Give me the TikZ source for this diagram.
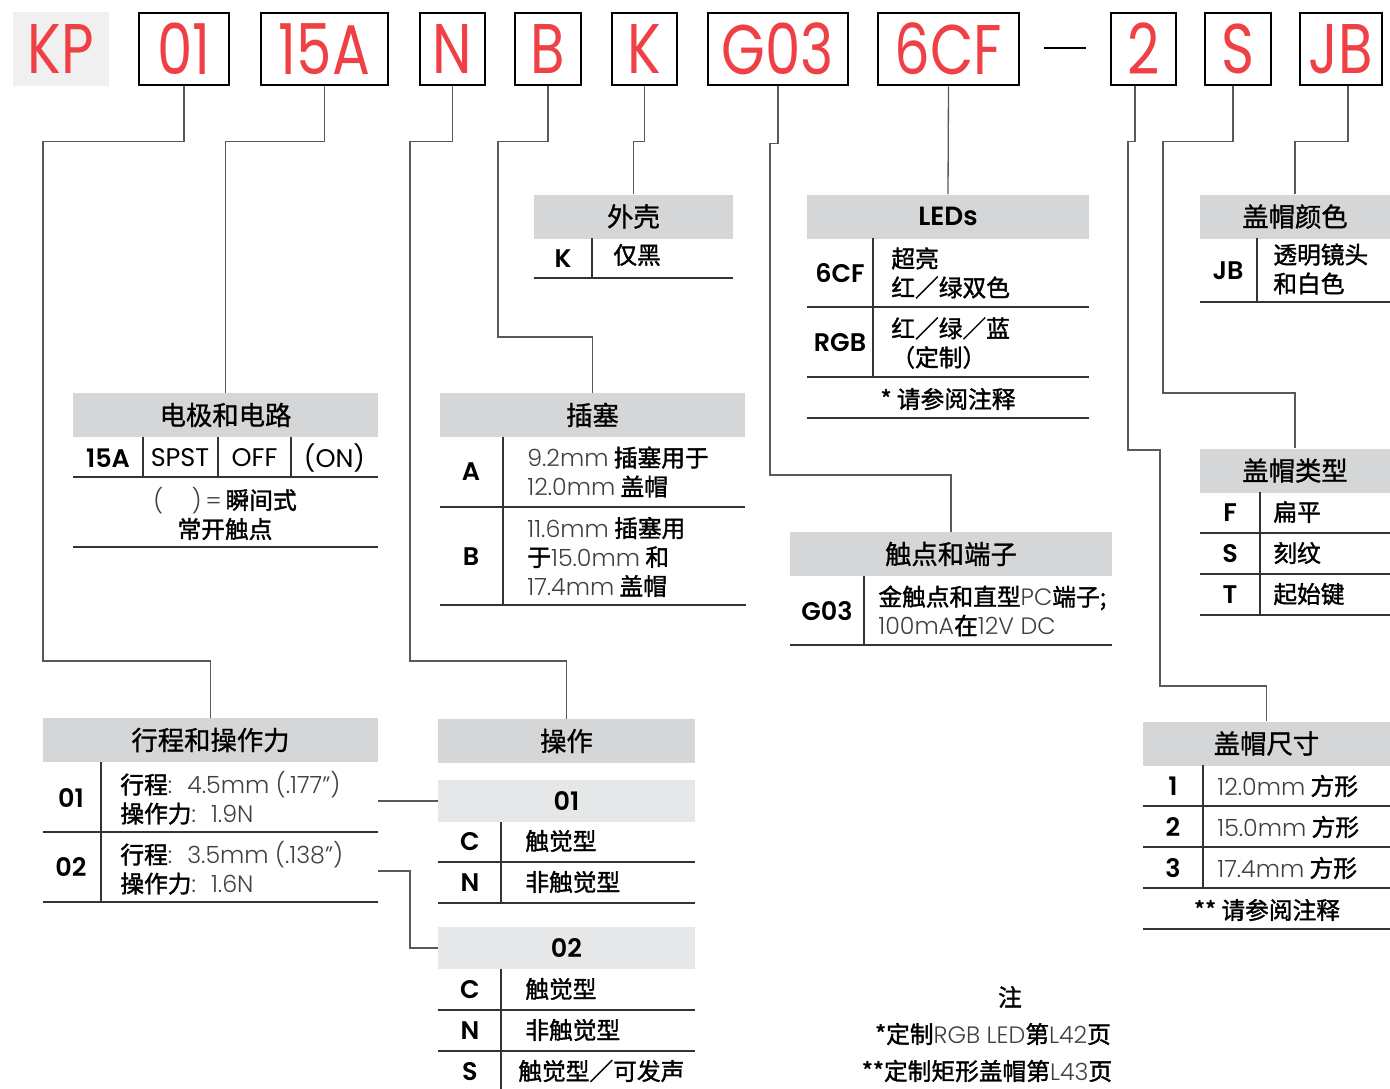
\documentclass[tikz,border=0pt]{standalone}
\usepackage{fontspec}
\setmainfont{Noto Sans CJK SC}
\newfontfamily\zhb{Noto Sans CJK SC}[FakeBold=1.5]
\newfontfamily\zhh{Noto Sans CJK SC}[FakeBold=1]
\newfontfamily\lt{Poppins}[UprightFont={* Light}]
\newfontfamily\rg{Poppins}
\newfontfamily\topf{Poppins}[FakeStretch=0.8]
\newfontfamily\bd{Poppins}[UprightFont={* SemiBold}]
\definecolor{kpred}{HTML}{EE4045}
\definecolor{hdrgray}{HTML}{D5D6D8}
\definecolor{subgray}{HTML}{E6E7E8}
\definecolor{kpbg}{HTML}{F0F0F0}
\definecolor{txtgray}{HTML}{404042}
\newcommand\zb[1]{{\zhb #1}}
\newcommand\nm[1]{{\lt\color{txtgray}#1}}
\begin{document}
\begin{tikzpicture}[x=0.02cm, y=-0.02cm,
    codebox/.style={draw, line width=1.5pt, minimum height=1.44cm, inner sep=0pt, text=kpred, font=\topf\fontsize{40}{40}\selectfont},
    hdr/.style={fill=hdrgray, minimum height=0.88cm, inner sep=0pt, font=\zhh\fontsize{15}{16}\selectfont},
    subhdr/.style={fill=subgray, minimum height=0.84cm, minimum width=5.14cm, inner sep=0pt, font=\bd\fontsize{14.5}{16}\selectfont},
    code/.style={inner sep=0pt, font=\bd\fontsize{14.5}{16}\selectfont},
    light/.style={inner sep=0pt, font=\rg\fontsize{14.5}{16}\selectfont},
    desc/.style={anchor=west, inner sep=0pt, align=left, font=\fontsize{13.5}{16.5}\selectfont},
    note/.style={inner sep=0pt, align=center, font=\fontsize{13.5}{16.5}\selectfont},
    rule/.style={line width=0.9pt, draw=black!80},
    conn/.style={line width=0.75pt, draw=black!65}]
\useasboundingbox (0,0) rectangle (1390,1089);
% part number
\node[fill=kpbg, minimum width=1.92cm, minimum height=1.48cm, inner sep=0pt, text=kpred, font=\topf\fontsize{40}{40}\selectfont] (kp) at (61,49) {KP};
\node[codebox, minimum width=1.8cm] (b01) at (184,49) {01};
\node[codebox, minimum width=2.54cm] (b15A) at (324.5,49) {15A};
\node[codebox, minimum width=1.3cm] (bN) at (452.5,49) {N};
\node[codebox, minimum width=1.32cm] (bB) at (548,49) {B};
\node[codebox, minimum width=1.3cm] (bK) at (644.5,49) {K};
\node[codebox, minimum width=2.8cm] (bG) at (778,49) {G03};
\node[codebox, minimum width=2.82cm] (b6) at (948.5,49) {6CF};
\draw[line width=1.3pt] (1044,48) -- (1086,48);
\node[codebox, minimum width=1.3cm] (b2) at (1143.5,49) {2};
\node[codebox, minimum width=1.32cm] (bS) at (1238,49) {S};
\node[codebox, minimum width=1.64cm] (bJB) at (1341,49) {JB};

% shell
\node[hdr, minimum width=3.98cm] (shell) at (633.5,216.5) {外壳};
\node[code] (sK) at (563,259) {K};
\node[desc] (sKd) at (613,255) {\zb{仅黑}};
\draw[rule] (592,238) -- (592,278);
\draw[rule] (534,278) -- (733,278);

% LEDs
\node[hdr, minimum width=5.64cm, font=\bd\fontsize{15}{16}\selectfont] (leds) at (948,216.5) {LEDs};
\draw[rule] (873,238) -- (873,377);
\node[code] (l6) at (840,273) {6CF};
\node[desc] (l6d) at (891,273) {\zb{超亮}\\\zb{红／绿双色}};
\draw[rule] (807,307) -- (1089,307);
\node[code] (lR) at (840,343) {RGB};
\node[desc] (lRd) at (891,343) {\zb{红／绿／蓝}\\\zb{（定制）}};
\draw[rule] (807,377) -- (1089,377);
\node[note] (lnote) at (948,399) {\zb{* 请参阅注释}};
\draw[rule] (807,418) -- (1089,418);

% cap colour
\node[hdr, minimum width=3.8cm] (capcol) at (1295,216.5) {盖帽颜色};
\node[code] (cJB) at (1228,271) {JB};
\node[desc] (cJBd) at (1273,269) {\zb{透明镜头}\\\zb{和白色}};
\draw[rule] (1257,238) -- (1257,302);
\draw[rule] (1200,302) -- (1390,302);

% electrode and circuit
\node[hdr, minimum width=6.1cm] (elec) at (225.5,415) {电极和电路};
\node[code] (e15A) at (108,458) {15A};
\node[light] (eSPST) at (180,458) {SPST};
\node[light] (eOFF) at (254.5,458) {OFF};
\node[light] (eON) at (334.5,458) {(ON)};
\draw[rule] (143,437) -- (143,477) (218,437) -- (218,477) (291,437) -- (291,477);
\draw[rule] (73,477) -- (378,477);
\node[note] (emom) at (225,513.5) {\nm{(\hspace{1.2em})\,=}\,\zb{瞬间式}\\\zb{常开触点}};
\draw[rule] (73,547) -- (378,547);

% plunger
\node[hdr, minimum width=6.1cm] (plug) at (592.5,415) {插塞};
\draw[rule] (503,437) -- (503,605);
\node[code] (pA) at (471,472) {A};
\node[desc] (pAd) at (527,472) {\nm{9.2mm} \zb{插塞用于}\\\nm{12.0mm} \zb{盖帽}};
\draw[rule] (440,507) -- (745,507);
\node[code] (pB) at (471,557) {B};
\node[desc] (pBd) at (527,557) {\nm{11.6mm} \zb{插塞用}\\\zb{于}\nm{15.0mm} \zb{和}\\\nm{17.4mm} \zb{盖帽}};
\draw[rule] (440,605) -- (746,605);

% cap type
\node[hdr, minimum width=3.8cm] (captype) at (1295,470.5) {盖帽类型};
\draw[rule] (1260,492) -- (1260,615);
\node[code] (tF) at (1230,513) {F};
\node[desc] (tFd) at (1273,512) {\zb{扁平}};
\draw[rule] (1200,533) -- (1390,533);
\node[code] (tS) at (1230,554) {S};
\node[desc] (tSd) at (1273,553) {\zb{刻纹}};
\draw[rule] (1200,574) -- (1390,574);
\node[code] (tT) at (1230,595) {T};
\node[desc] (tTd) at (1273,594) {\zb{起始键}};
\draw[rule] (1200,615) -- (1390,615);

% contacts and terminals
\node[hdr, minimum width=6.44cm] (term) at (951,554) {触点和端子};
\draw[rule] (864,576) -- (864,645);
\node[code] (gG) at (827,611) {G03};
\node[desc] (gGd) at (878,611) {\zb{金触点和直型}\nm{PC}\zb{端子;}\\\nm{100mA}\zb{在}\nm{12V DC}};
\draw[rule] (790,645) -- (1112,645);

% travel and force
\node[hdr, minimum width=6.7cm] (trav) at (210.5,740) {行程和操作力};
\draw[rule] (101,762) -- (101,902);
\node[code] (r01) at (71,798) {01};
\node[desc] (r01d) at (120,798) {\zb{行程}\nm{:~ 4.5mm (.177”)}\\\zb{操作力}\nm{:~ 1.9N}};
\draw[rule] (43,832) -- (378,832);
\node[code] (r02) at (71,867) {02};
\node[desc] (r02d) at (120,868) {\zb{行程}\nm{:~ 3.5mm (.138”)}\\\zb{操作力}\nm{:~ 1.6N}};
\draw[rule] (43,902) -- (378,902);
\coordinate (t01) at (378,801);
\coordinate (t02) at (378,871);

% operation
\node[hdr, minimum width=5.14cm] (oper) at (566.5,741) {操作};
\node[subhdr] (op01) at (566.5,801) {01};
\draw[rule] (501,822) -- (501,903);
\node[code] (o1C) at (470,842) {C};
\node[desc] (o1Cd) at (525,841) {\zb{触觉型}};
\draw[rule] (438,862) -- (695,862);
\node[code] (o1N) at (470,883) {N};
\node[desc] (o1Nd) at (525,882) {\zb{非触觉型}};
\draw[rule] (438,903) -- (695,903);
\node[subhdr] (op02) at (566.5,948) {02};
\draw[rule] (501,969) -- (501,1089);
\node[code] (o2C) at (470,990) {C};
\node[desc] (o2Cd) at (525,989) {\zb{触觉型}};
\draw[rule] (438,1010) -- (695,1010);
\node[code] (o2N) at (470,1031) {N};
\node[desc] (o2Nd) at (525,1030) {\zb{非触觉型}};
\draw[rule] (438,1051) -- (695,1051);
\node[code] (o2S) at (470,1072) {S};
\node[desc] (o2Sd) at (518,1071) {\zb{触觉型／可发声}};

% cap size
\node[hdr, minimum width=4.94cm] (capsize) at (1266.5,743.5) {盖帽尺寸};
\draw[rule] (1203,765) -- (1203,888);
\node[code] (z1) at (1173,786) {1};
\node[desc] (z1d) at (1217,786) {\nm{12.0mm} \zb{方形}};
\draw[rule] (1143,806) -- (1390,806);
\node[code] (z2) at (1173,827) {2};
\node[desc] (z2d) at (1217,827) {\nm{15.0mm} \zb{方形}};
\draw[rule] (1143,847) -- (1390,847);
\node[code] (z3) at (1173,868) {3};
\node[desc] (z3d) at (1217,868) {\nm{17.4mm} \zb{方形}};
\draw[rule] (1143,888) -- (1390,888);
\node[note] (znote) at (1267,910) {\zb{** 请参阅注释}};
\draw[rule] (1143,929) -- (1390,929);

% notes
\node[note] (nhead) at (1010,997) {\zb{注}};
\node[note] (n1) at (993,1034) {\zb{*定制}\nm{RGB LED}\zb{第}\nm{L42}\zb{页}};
\node[note] (n2) at (987,1071) {\zb{**定制矩形盖帽第}\nm{L43}\zb{页}};

% connectors
\draw[conn] (b01.south) -- ++(0,55) -| (43,661) -| (trav.north);
\draw[conn] (b15A.south) -- ++(0,55) -| (elec.north);
\draw[conn] (bN.south) -- ++(0,55) -| (410,661) -| (oper.north);
\draw[conn] (bB.south) -- ++(0,55) -| (498,337) -| (plug.north);
\draw[conn] (bK.south) -- ++(0,55) -| (shell.north);
\draw[conn] (bG.south) -- ++(0,57) -| (770,475) -| (term.north);
\draw[conn] (b6.south) -- (leds.north);
\draw[conn] ([xshift=-0.17cm]b2.south) -- ++(0,55) -| (1128,450) -| (1160,686) -| (capsize.north);
\draw[conn] ([xshift=-0.1cm]bS.south) -- ++(0,55) -| (1163,393) -| (captype.north);
\draw[conn] ([xshift=0.14cm]bJB.south) -- ++(0,55) -| (capcol.north);
\draw[conn] (t01) -- (op01.west);
\draw[conn] (t02) -| (410,948) -- (op02.west);
\end{tikzpicture}
\end{document}
